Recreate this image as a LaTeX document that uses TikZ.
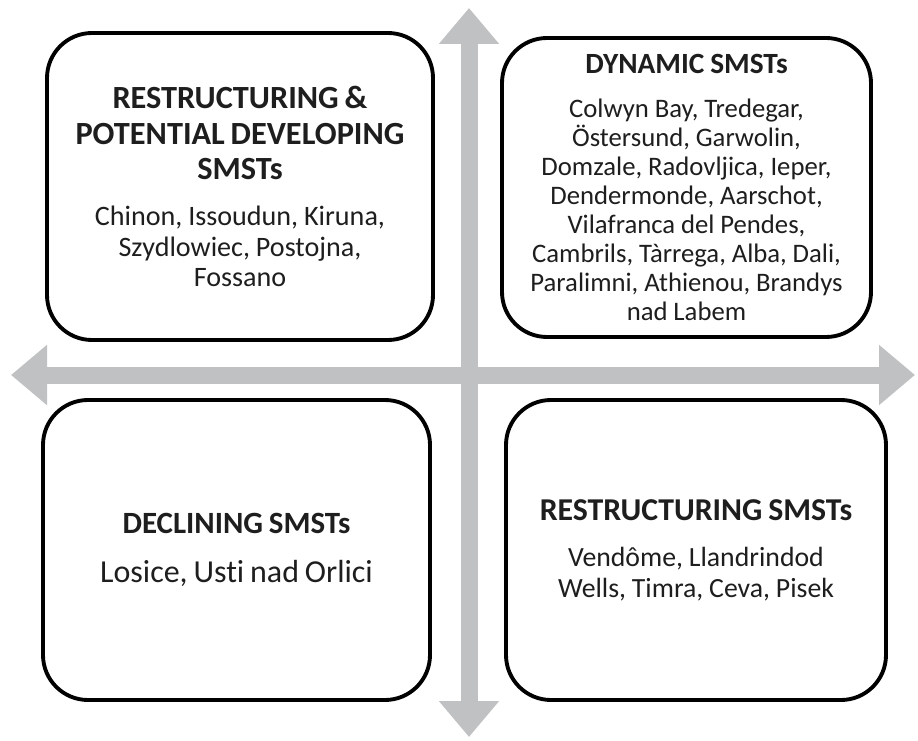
\documentclass[tikz,border=0pt]{standalone}
\usepackage{fontspec}
\setmainfont{Carlito}[Ligatures=NoCommon]
\usepackage{tikz}
\usetikzlibrary{arrows.meta}
\definecolor{axisgray}{RGB}{192,193,195}
\definecolor{inkgray}{RGB}{30,30,30}
\newcommand{\quadtitle}[2]{\bfseries\fontsize{#1}{#2}\selectfont}
\newcommand{\quadbody}[2]{\fontsize{#1}{#2}\selectfont}

\begin{document}
\begin{tikzpicture}[
  quadbox/.style={draw=black,line width=2.2pt,rounded corners=0.9cm,fill=white,
    inner sep=0pt,align=center,text=inkgray},
  axisarrow/.style={draw=axisgray,line width=0.34cm,
    {Triangle[length=0.72cm,width=1.16cm]}-{Triangle[length=0.72cm,width=1.16cm]}}]
\useasboundingbox (0,0) rectangle (18.36,14.8);
% axes
\coordinate (north) at (9.38,14.64);
\coordinate (south) at (9.38,0.06);
\coordinate (west) at (0.22,7.30);
\coordinate (east) at (18.30,7.30);
\draw[axisarrow] (south) -- (north);
\draw[axisarrow] (west) -- (east);
% quadrants
\node[quadbox,minimum width=7.72cm,minimum height=6.14cm,text width=7.5cm] (potential) at (4.80,11.07)
  {{\quadtitle{18.4}{20.2}RESTRUCTURING \&\\ POTENTIAL DEVELOPING\\ SMSTs\par}\vspace{9pt}
   {\quadbody{16}{17.2}Chinon, Issoudun, Kiruna,\\ Szydlowiec, Postojna,\\ Fossano\par}};
\node[quadbox,minimum width=7.38cm,minimum height=5.98cm,text width=7.1cm] (dynamic) at (13.73,11.05)
  {{\quadtitle{16.7}{19}DYNAMIC SMSTs\par}\vspace{8.5pt}
   {\quadbody{15.2}{16.5}Colwyn Bay, Tredegar,\\ Östersund, Garwolin,\\ Domzale, Radovljica, Ieper,\\
    Dendermonde, Aarschot,\\ Vilafranca del Pendes,\\ Cambrils, Tàrrega, Alba, Dali,\\
    Paralimni, Athienou, Brandys\\ nad Labem\par}};
\node[quadbox,minimum width=7.74cm,minimum height=6.00cm,text width=7.4cm] (declining) at (4.73,3.80)
  {{\quadtitle{17.6}{20}DECLINING SMSTs\par}\vspace{8.5pt}
   {\quadbody{18.2}{19.5}Losice, Usti nad Orlici\par}};
\node[quadbox,minimum width=7.60cm,minimum height=6.00cm,text width=7.3cm] (restructuring) at (13.92,3.80)
  {{\quadtitle{18.1}{20}RESTRUCTURING SMSTs\par}\vspace{8.5pt}
   {\quadbody{15.8}{17.6}Vendôme, Llandrindod\\ Wells, Timra, Ceva, Pisek\par}};
\end{tikzpicture}
\end{document}
